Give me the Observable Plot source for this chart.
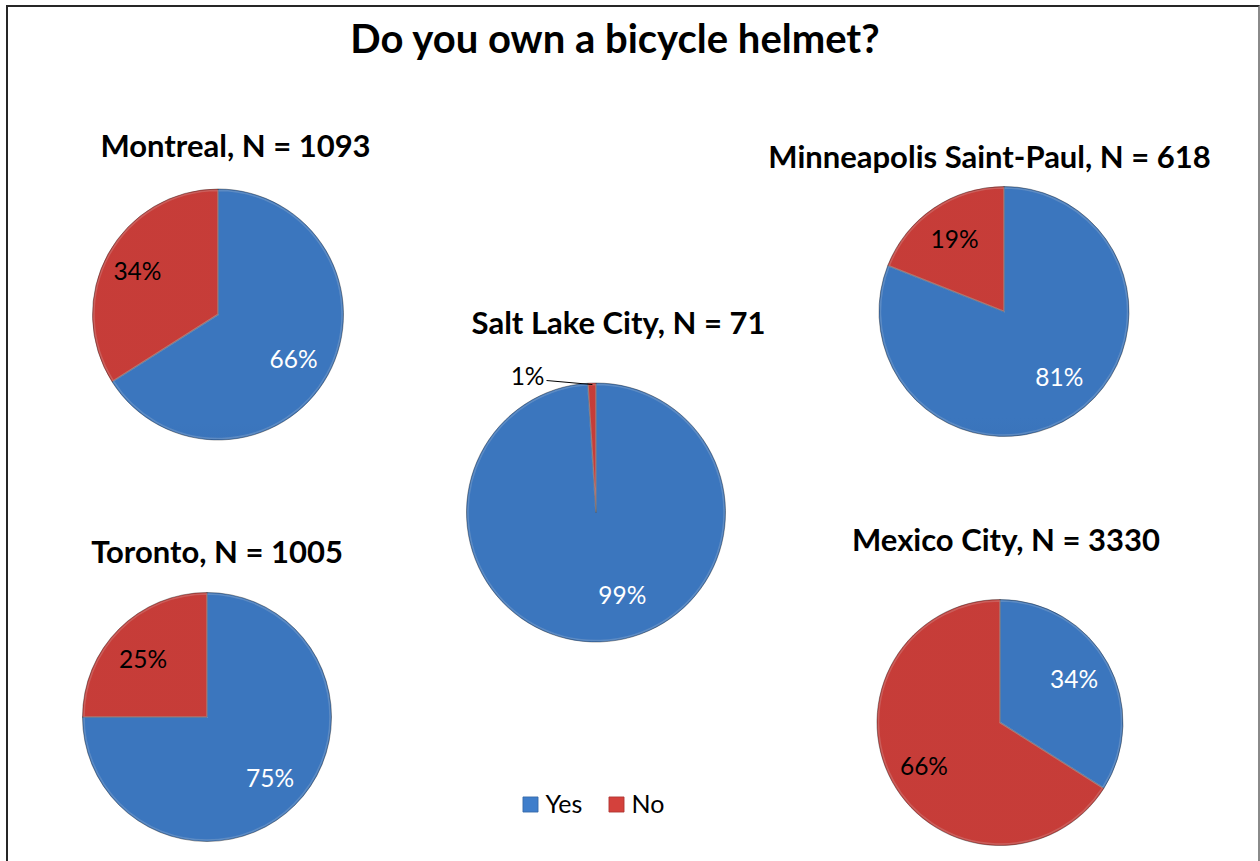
<!DOCTYPE html>
<html>
<head>
<meta charset="utf-8">
<script src="https://cdn.jsdelivr.net/npm/d3@7"></script>
<script src="https://cdn.jsdelivr.net/npm/@observablehq/plot@0.6"></script>
<style>
  html, body { margin: 0; padding: 0; background: #fff; overflow: hidden; }
  body { width: 1260px; height: 861px; position: relative; font-family: Lato, "Open Sans", sans-serif; }
  #frame { position: absolute; left: 6px; top: 5px; width: 1254px; height: 900px; box-sizing: border-box;
           border-left: 2px solid #262626; border-top: 2px solid #262626; border-right: 2px solid #8a8a8a;
           pointer-events: none; z-index: 2; }
  #title { height: 80px; box-sizing: border-box; padding-top: 18px; padding-right: 30px; text-align: center;
           font: bold 40px Lato, sans-serif; line-height: 40px; color: #000; margin: 0; }
  #chart svg { display: block; }
</style>
</head>
<body>
<div id="frame"></div>
<h1 id="title"></h1>
<div id="chart"></div>
<script>
// ---------- data ----------
const chartTitle = "Do you own a bicycle helmet?";
const cities = ["Montreal", "Minneapolis Saint-Paul", "Salt Lake City", "Toronto", "Mexico City"];
const sampleSizes = [1093, 618, 71, 1005, 3330];
const yesPercent = [66, 81, 99, 75, 34];
const noPercent = [34, 19, 1, 25, 66];
const answers = ["Yes", "No"];

// ---------- layout & style (page pixel coordinates) ----------
const answerColors = ["#3f7ecb", "#d4413c"];
const pieCenterX = [218, 1004, 596, 207, 1000];
const pieCenterY = [314.5, 311.5, 512.5, 717, 722.5];
const pieRadius = [125.5, 125, 129.5, 124.5, 123];
const headingX = [235, 989, 618, 216.5, 1005.5];
const headingY = [147, 158, 324, 552.5, 541];
const labelDistance = 0.71;          // fraction of radius for inside labels
const yesLabelNudgeX = [-3, 5, 23, 0, -3];
const yesLabelNudgeY = [2, -7, -9, -1, -1];
const noLabelNudgeX = [-3, 0, 0, -2, 0];
const noLabelNudgeY = [0, 2, 0, 5, 2];
const outsideLabelEnd = {x: 544, y: 377};   // end of the small outside label
const legendX = [530, 616];
const legendY = 804;

document.getElementById("title").textContent = chartTitle;

// ---------- derived tables ----------
const pieGen = d3.pie().sort(null).value(d => d.value);
const slices = [];
cities.forEach((city, i) => {
  const arcs = pieGen(answers.map((a, j) => ({answer: a, value: j === 0 ? yesPercent[i] : noPercent[i]})));
  arcs.forEach((arc) => {
    const mid = (arc.startAngle + arc.endAngle) / 2;
    slices.push({
      city, i, answer: arc.data.answer, value: arc.data.value,
      startAngle: arc.startAngle, endAngle: arc.endAngle, mid
    });
  });
});

const headings = cities.map((city, i) => ({city, n: sampleSizes[i], x: headingX[i], y: headingY[i]}));

const insideLabels = [];
const outsideLabels = [];
for (const s of slices) {
  const cx = pieCenterX[s.i], cy = pieCenterY[s.i], r = pieRadius[s.i];
  if (s.value >= 5) {
    const nx = s.answer === "Yes" ? yesLabelNudgeX[s.i] : noLabelNudgeX[s.i];
    const ny = s.answer === "Yes" ? yesLabelNudgeY[s.i] : noLabelNudgeY[s.i];
    insideLabels.push({
      text: s.value + "%", answer: s.answer,
      x: cx + labelDistance * r * Math.sin(s.mid) + nx,
      y: cy - labelDistance * r * Math.cos(s.mid) + ny
    });
  } else {
    outsideLabels.push({
      text: s.value + "%", answer: s.answer,
      x1: outsideLabelEnd.x + 2, y1: outsideLabelEnd.y + 3,
      x2: cx + r * Math.sin(s.mid), y2: cy - r * Math.cos(s.mid) + 1,
      tx: outsideLabelEnd.x, ty: outsideLabelEnd.y
    });
  }
}
const legendItems = answers.map((a, j) => ({answer: a, x: legendX[j], y: legendY}));

// ---------- pie render mark ----------
function pies(index, scales) {
  const {x, y, color} = scales;
  const g = d3.create("svg:g");
  const defs = g.append("defs");
  cities.forEach((city, i) => {
    const cx = x(pieCenterX[i]), cy = y(pieCenterY[i]);
    const r = x(pieRadius[i]) - x(0);
    answers.forEach((a, j) => {
      const base = d3.color(color(a));
      const grad = defs.append("linearGradient")
        .attr("id", `grad-${i}-${j}`)
        .attr("gradientUnits", "userSpaceOnUse")
        .attr("x1", cx).attr("y1", cy - r).attr("x2", cx).attr("y2", cy + r);
      grad.append("stop").attr("offset", "0").attr("stop-color", base.brighter(0.3).formatHex());
      grad.append("stop").attr("offset", "0.45").attr("stop-color", base.formatHex());
      grad.append("stop").attr("offset", "1").attr("stop-color", base.darker(0.3).formatHex());
    });
    const rim = defs.append("radialGradient")
      .attr("id", `rim-${i}`).attr("gradientUnits", "userSpaceOnUse")
      .attr("cx", cx).attr("cy", cy).attr("r", r);
    rim.append("stop").attr("offset", "0.94").attr("stop-color", "#000").attr("stop-opacity", 0);
    rim.append("stop").attr("offset", "1").attr("stop-color", "#000").attr("stop-opacity", 0.16);

    const pg = g.append("g").attr("transform", `translate(${cx},${cy})`);
    const arc = d3.arc().innerRadius(0).outerRadius(r);
    const mine = slices.filter(s => s.i === i);
    pg.selectAll("path.slice").data(mine).join("path")
      .attr("class", "slice")
      .attr("d", d => arc(d))
      .attr("fill", d => `url(#grad-${i}-${answers.indexOf(d.answer)})`)
      .attr("stroke", "#2a2a2a").attr("stroke-opacity", 0.55).attr("stroke-width", 0.8)
      .attr("stroke-linejoin", "round");
    pg.selectAll("path.hl").data(mine).join("path")
      .attr("class", "hl")
      .attr("d", d => d3.arc().innerRadius(0).outerRadius(r - 1.5)(d))
      .attr("fill", "none").attr("stroke", "#fff").attr("stroke-opacity", 0.22).attr("stroke-width", 1.5);
    pg.append("circle").attr("r", r).attr("fill", `url(#rim-${i})`);
  });
  return g.node();
}

// ---------- plot ----------
const fontFam = "Lato, 'Open Sans', sans-serif";
const chart = Plot.plot({
  width: 1260,
  height: 781,
  margin: 0,
  style: {fontFamily: fontFam, background: "transparent"},
  x: {domain: [0, 1260], range: [0, 1260], axis: null},
  y: {domain: [80, 861], range: [0, 781], axis: null},
  color: {domain: answers, range: answerColors},
  marks: [
    pies,
    Plot.text(headings, {
      x: "x", y: "y", text: d => `${d.city}, N = ${d.n}`,
      fontSize: 31, fontWeight: "bold", fill: "#000", fontFamily: fontFam
    }),
    Plot.text(insideLabels, {
      x: "x", y: "y", text: "text",
      fill: d => d.answer === "Yes" ? "#ffffff" : "#000000",
      fontSize: 24.5, fontFamily: fontFam
    }),
    Plot.link(outsideLabels, {x1: "x1", y1: "y1", x2: "x2", y2: "y2", stroke: "#000", strokeWidth: 1}),
    Plot.text(outsideLabels, {
      x: "tx", y: "ty", text: "text", textAnchor: "end",
      fill: "#000", fontSize: 24.5, fontFamily: fontFam
    }),
    Plot.dot(legendItems, {
      x: "x", y: "y", fill: "answer", symbol: "square", r: 8.5,
      stroke: d => d3.color(answerColors[answers.indexOf(d.answer)]).darker(0.6).formatHex(), strokeWidth: 0.8
    }),
    Plot.text(legendItems, {
      x: d => d.x + 15, y: "y", text: "answer", textAnchor: "start",
      fill: "#000", fontSize: 25, fontFamily: fontFam
    })
  ]
});
document.getElementById("chart").appendChild(chart);
</script>
</body>
</html>
